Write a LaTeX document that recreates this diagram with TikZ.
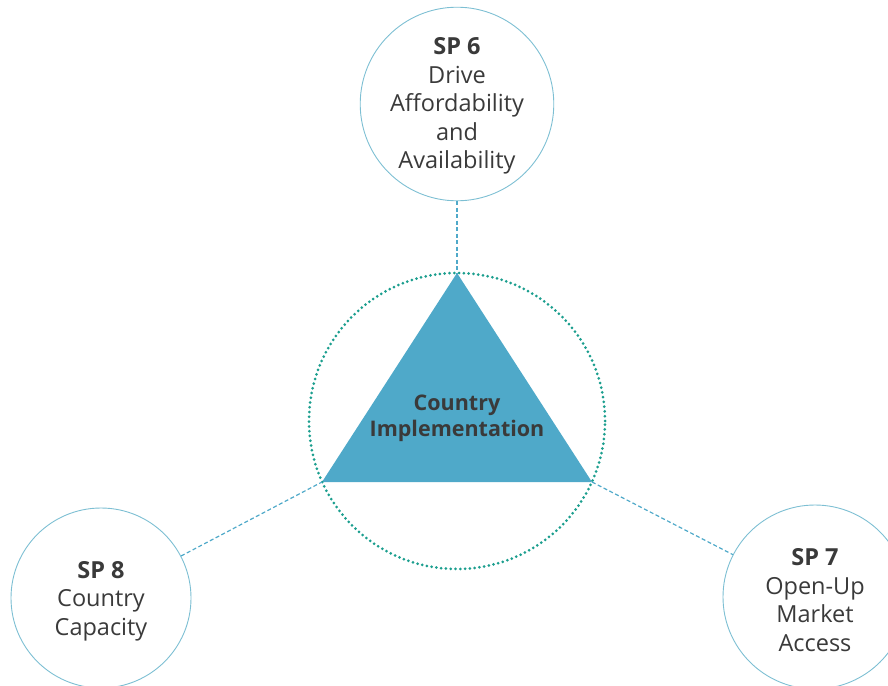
\documentclass[tikz,border=0pt]{standalone}
\usepackage{fontspec}
\setmainfont{Open Sans}
\definecolor{ringblue}{HTML}{7DBFD3}
\definecolor{triblue}{HTML}{4FA9C9}
\definecolor{dotteal}{HTML}{1B9E8E}
\definecolor{txt}{HTML}{3A3A3A}
\tikzset{
  spcircle/.style={circle, draw=ringblue, line width=0.9pt, minimum size=#1, inner sep=0pt, align=center, text=txt, font=\fontsize{23.5}{28.5}\selectfont},
  conn/.style={draw=triblue, dashed, dash pattern=on 4pt off 2.5pt, line width=1.2pt},
  ring/.style={circle, draw=dotteal, line width=3pt, line cap=round, dash pattern=on 0pt off 4.8pt, minimum size=296pt, inner sep=0pt},
}
\begin{document}
\begin{tikzpicture}[x=1pt,y=-1pt]
\useasboundingbox (0,0) rectangle (888,685);
\node[spcircle=184pt] (sp6) at (457,104) {\rule{0pt}{21pt}\textbf{SP 6}\\Drive\\Affordability\\and\\Availability};
\node[spcircle=180pt] (sp8) at (101,598) {\rule{0pt}{23.5pt}\textbf{SP 8}\\Country\\Capacity};
\node[spcircle=184pt] (sp7) at (815,597) {\rule{0pt}{23pt}\textbf{SP 7}\\Open-Up\\Market\\Access};
\coordinate (tt) at (457,273);
\coordinate (tl) at (322,482);
\coordinate (tr) at (592,482);
\fill[triblue] (tt) -- (tl) -- (tr) -- cycle;
\node[ring] (core) at (457,421) {};
\node[align=center, text=txt, font=\bfseries\fontsize{21.5}{26}\selectfont] (ci) at (457,418) {Country\\Implementation};
\draw[conn] (sp6) -- (tt);
\draw[conn] (sp8) -- (tl);
\draw[conn] (tr) -- (sp7);
\end{tikzpicture}
\end{document}
